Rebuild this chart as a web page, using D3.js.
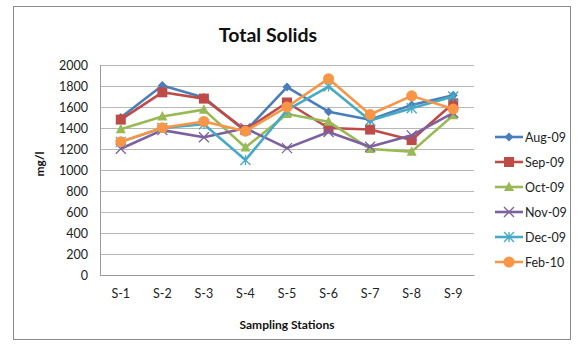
<!DOCTYPE html>
<html>
<head>
<meta charset="utf-8">
<script src="https://cdn.jsdelivr.net/npm/d3@7"></script>
<style>
  html, body { margin: 0; padding: 0; background: #fff; }
  svg { display: block; font-family: Lato, "Open Sans", sans-serif; }
</style>
</head>
<body>
<svg id="chart" width="580" height="345"></svg>
<script>
// Sampling stations along the x axis
const stations = ["S-1", "S-2", "S-3", "S-4", "S-5", "S-6", "S-7", "S-8", "S-9"];

// Total solids (mg/l) per month
const aug09 = [1500, 1805, 1690, 1370, 1790, 1555, 1478, 1620, 1712];
const sep09 = [1480, 1740, 1680, 1380, 1643, 1400, 1385, 1285, 1635];
const oct09 = [1388, 1510, 1575, 1215, 1533, 1460, 1200, 1175, 1522];
const nov09 = [1202, 1380, 1312, 1398, 1208, 1362, 1222, 1330, 1545];
const dec09 = [1268, 1400, 1435, 1095, 1570, 1795, 1472, 1588, 1700];
const feb10 = [1270, 1403, 1462, 1370, 1600, 1870, 1528, 1706, 1580];

const seriesNames = ["Aug-09", "Sep-09", "Oct-09", "Nov-09", "Dec-09", "Feb-10"];
const seriesValues = [aug09, sep09, oct09, nov09, dec09, feb10];

const yTicks = [0, 200, 400, 600, 800, 1000, 1200, 1400, 1600, 1800, 2000];

const colors = ["#4A7EBB", "#BE4B48", "#98B954", "#7D60A0", "#46AAC5", "#F79646"];
const markers = ["diamond", "square", "triangle", "cross", "star", "circle"];

const svg = d3.select("#chart");

// Outer chart frame
svg.append("rect")
  .attr("x", 13.5).attr("y", 6.5)
  .attr("width", 557).attr("height", 333)
  .attr("fill", "#fff").attr("stroke", "#8c8c8c").attr("stroke-width", 1);

const plot = { left: 100, right: 474, top: 65, bottom: 275 };

const x = d3.scaleBand().domain(stations).range([plot.left, plot.right]);
const y = d3.scaleLinear().domain([0, 2000]).range([plot.bottom, plot.top]);

// Gridlines
svg.append("g")
  .selectAll("line")
  .data(yTicks)
  .join("line")
  .attr("x1", plot.left).attr("x2", plot.right)
  .attr("y1", d => Math.round(y(d)) + 0.5).attr("y2", d => Math.round(y(d)) + 0.5)
  .attr("stroke", "#b8b8b8").attr("stroke-width", 1);

// Vertical axis line
svg.append("line")
  .attr("x1", plot.left + 0.5).attr("x2", plot.left + 0.5)
  .attr("y1", plot.top).attr("y2", plot.bottom + 0.5)
  .attr("stroke", "#9a9a9a");

// Y axis labels
const yAxis = d3.axisLeft(y).tickValues(yTicks).tickFormat(d3.format("d")).tickSize(0).tickPadding(12);
svg.append("g")
  .attr("transform", `translate(${plot.left},0)`)
  .call(yAxis)
  .call(g => g.select(".domain").remove())
  .call(g => g.selectAll("text").attr("font-size", 12.5).attr("fill", "#222")
    .attr("font-family", "Lato, 'Open Sans', sans-serif"));

// X axis labels
const xAxis = d3.axisBottom(x).tickSize(0).tickPadding(14);
svg.append("g")
  .attr("transform", `translate(0,${plot.bottom})`)
  .call(xAxis)
  .call(g => g.select(".domain").attr("stroke", "#9a9a9a"))
  .call(g => g.selectAll("text").attr("font-size", 12.5).attr("fill", "#222")
    .attr("font-family", "Lato, 'Open Sans', sans-serif"));

// Titles
svg.append("text")
  .attr("x", 268).attr("y", 42)
  .attr("text-anchor", "middle")
  .attr("font-size", 19.5).attr("font-weight", "bold").attr("fill", "#111")
  .text("Total Solids");

svg.append("text")
  .attr("x", 287).attr("y", 329)
  .attr("text-anchor", "middle")
  .attr("font-size", 12).attr("font-weight", "bold").attr("fill", "#111")
  .text("Sampling Stations");

svg.append("text")
  .attr("transform", "translate(44,164) rotate(-90)")
  .attr("text-anchor", "middle")
  .attr("font-size", 12).attr("font-weight", "bold").attr("fill", "#111")
  .text("mg/l");

// Marker drawing
function drawMarker(sel, type, color, size) {
  const s = size;
  if (type === "diamond") {
    sel.append("path").attr("d", `M0,${-s}L${s},0L0,${s}L${-s},0Z`).attr("fill", color);
  } else if (type === "square") {
    sel.append("rect").attr("x", -s).attr("y", -s).attr("width", 2 * s).attr("height", 2 * s).attr("fill", color);
  } else if (type === "triangle") {
    sel.append("path").attr("d", `M0,${-s * 1.1}L${s},${s * 0.8}L${-s},${s * 0.8}Z`).attr("fill", color);
  } else if (type === "cross") {
    sel.append("path").attr("d", `M${-s},${-s}L${s},${s}M${-s},${s}L${s},${-s}`)
      .attr("stroke", color).attr("stroke-width", 1.3).attr("fill", "none");
  } else if (type === "star") {
    sel.append("path").attr("d", `M${-s},${-s}L${s},${s}M${-s},${s}L${s},${-s}M0,${-s}L0,${s}`)
      .attr("stroke", color).attr("stroke-width", 1.3).attr("fill", "none");
  } else if (type === "circle") {
    sel.append("circle").attr("r", s).attr("fill", color);
  }
}

const markerSize = [4.5, 5, 5, 5, 5, 5.5];

const line = d3.line()
  .x((d, i) => x(stations[i]) + x.bandwidth() / 2)
  .y(d => y(d));

seriesValues.forEach((vals, k) => {
  const g = svg.append("g");
  g.append("path")
    .datum(vals)
    .attr("d", line)
    .attr("fill", "none")
    .attr("stroke", colors[k])
    .attr("stroke-width", 2.6)
    .attr("stroke-linejoin", "round");
  vals.forEach((v, i) => {
    const m = g.append("g")
      .attr("transform", `translate(${x(stations[i]) + x.bandwidth() / 2},${y(v)})`);
    drawMarker(m, markers[k], colors[k], markerSize[k]);
  });
});

// Legend
const legend = svg.append("g");
seriesNames.forEach((name, k) => {
  const ly = 137 + k * 25;
  const item = legend.append("g");
  item.append("line")
    .attr("x1", 495).attr("x2", 523).attr("y1", ly).attr("y2", ly)
    .attr("stroke", colors[k]).attr("stroke-width", 2.6);
  const m = item.append("g").attr("transform", `translate(509,${ly})`);
  drawMarker(m, markers[k], colors[k], markerSize[k]);
  item.append("text")
    .attr("x", 525).attr("y", ly + 4.5)
    .attr("font-size", 12.5).attr("fill", "#222")
    .text(name);
});
</script>
</body>
</html>
